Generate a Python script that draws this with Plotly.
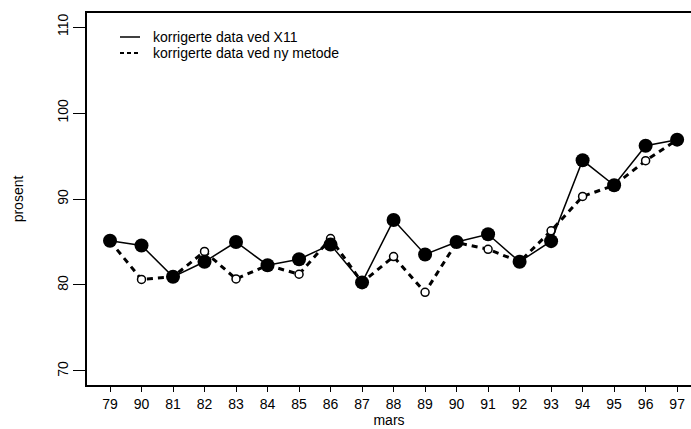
import plotly.graph_objects as go

labels = ["79", "90", "81", "82", "83", "84", "85", "86", "87", "88",
          "89", "90", "91", "92", "93", "94", "95", "96", "97"]
x11 = [85.15, 84.6, 80.95, 82.7, 85.0, 82.3, 83.0, 84.7, 80.3, 87.55,
       83.55, 85.0, 85.9, 82.7, 85.1, 94.5, 91.6, 96.2, 96.9]
ny_metode = [85.1, 80.65, 80.95, 83.9, 80.7, 82.3, 81.25, 85.4, 80.3, 83.3,
             79.15, 84.95, 84.15, 82.7, 86.3, 90.3, 91.6, 94.45, 96.9]
yticks = [70, 80, 90, 100, 110]
legend_names = ["korrigerte data ved X11", "korrigerte data ved ny metode"]

idx = list(range(len(labels)))
font = "Liberation Sans, Arial, Helvetica, sans-serif"

fig = go.Figure()
fig.add_trace(go.Scatter(
    x=idx, y=ny_metode, mode="lines+markers", showlegend=False,
    line=dict(color="black", width=3, dash="6px,5px"),
    marker=dict(size=8, color="white", line=dict(color="black", width=1.5)),
))
fig.add_trace(go.Scatter(
    x=idx, y=x11, mode="lines+markers", showlegend=False,
    line=dict(color="black", width=1.5),
    marker=dict(size=14, color="black", line=dict(width=0)),
))

# legend drawn manually (paper coordinates)
W, H, L, T, B = 691, 429, 87, 13, 44
pw, ph = W - L, H - T - B
def px(xp):
    return (xp - L) / pw
def py(yp):
    return (H - B - yp) / ph

rows = [(37, "solid", 1.5), (53, "4px,3px", 2.2)]
for (yrow, dash, w), name in zip(rows, legend_names):
    fig.add_shape(type="line", xref="paper", yref="paper",
                  x0=px(120), x1=px(140), y0=py(yrow), y1=py(yrow),
                  line=dict(color="black", width=w, dash=dash))
    fig.add_annotation(xref="paper", yref="paper", x=px(151), y=py(yrow),
                       xanchor="left", yanchor="middle", showarrow=False,
                       text=name, font=dict(size=14, color="black"))

fig.update_layout(
    width=W, height=H,
    margin=dict(l=L, r=0, t=T, b=B),
    paper_bgcolor="white", plot_bgcolor="white",
    font=dict(family=font, size=14, color="black"),
    showlegend=False,
    xaxis=dict(
        range=[-0.73, 18.44], tickmode="array", tickvals=idx, ticktext=labels,
        showgrid=False, zeroline=False, showline=True, linecolor="black",
        linewidth=1.5, mirror=True, ticks="outside", ticklen=5,
        tickcolor="black", tickwidth=1,
        title=dict(text="mars", font=dict(size=14), standoff=5),
    ),
    yaxis=dict(
        range=[68.37, 111.63], tickmode="array", tickvals=yticks,
        showgrid=False, zeroline=False, showline=True, linecolor="black",
        linewidth=1.5, ticks="outside", ticklen=12, tickcolor="black",
        tickwidth=1, tickangle=-90,
        title=dict(text="prosent", font=dict(size=14), standoff=28),
    ),
)

fig.write_html("out.html")
